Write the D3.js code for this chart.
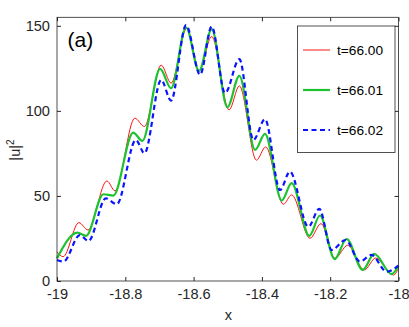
<!DOCTYPE html>
<html>
<head>
<meta charset="utf-8">
<script src="https://cdn.jsdelivr.net/npm/d3@7"></script>
<style>
  body { margin: 0; background: #fff; }
  svg { display: block; font-family: "Liberation Sans", Arial, sans-serif; }
</style>
</head>
<body>
<div id="container"></div>
<script>
// DATA (local peaks and troughs of each curve)
const redX   = [-19, -18.982, -18.936, -18.909, -18.854, -18.830, -18.772, -18.744, -18.695, -18.666, -18.620, -18.584, -18.547, -18.496, -18.466, -18.416, -18.389, -18.337, -18.313, -18.259, -18.227, -18.186, -18.149, -18.100, -18.067, -18.015, -18];
const redY   = [17.2, 14.3, 34.3, 30, 58.8, 53, 95.7, 90.8, 126.9, 116.3, 148.6, 123.5, 143.7, 100.6, 114.7, 71, 78.8, 45.1, 50.6, 25.1, 33.7, 13.3, 21, 6.5, 13.5, 3.5, 7.5];
const greenX = [-19, -18.940, -18.915, -18.864, -18.835, -18.777, -18.750, -18.698, -18.666, -18.622, -18.584, -18.547, -18.501, -18.466, -18.420, -18.391, -18.342, -18.313, -18.261, -18.230, -18.187, -18.152, -18.105, -18.071, -18.020, -18];
const greenY = [13.3, 28.4, 26.5, 51, 50.2, 87.2, 82.4, 124.7, 113.3, 149, 123.5, 148, 102.2, 120.6, 77.1, 86.5, 47.3, 57.5, 26.5, 38.5, 12.9, 24.7, 6.5, 15.9, 4.1, 8.8];
const blueX  = [-19, -18.981, -18.933, -18.908, -18.857, -18.825, -18.769, -18.744, -18.695, -18.666, -18.622, -18.581, -18.547, -18.508, -18.466, -18.425, -18.391, -18.347, -18.318, -18.264, -18.232, -18.196, -18.155, -18.113, -18.079, -18.035, -18];
const blueY  = [12.4, 11.4, 27, 23.5, 48.6, 45.1, 82.9, 75.1, 118.2, 106, 150.4, 121.2, 149.6, 110.4, 130.4, 82.9, 95.1, 53.5, 64.3, 31.9, 42.4, 18.2, 24.1, 11.4, 15.3, 5.5, 9];

const seriesNames = ["t=66.00", "t=66.01", "t=66.02"];
const xTicks = [-19, -18.8, -18.6, -18.4, -18.2, -18];
const yTicks = [0, 50, 100, 150];

//SVG
const width = 409;
const height = 327;
const plotLeft = 57, plotRight = 398.5, plotTop = 17.3, plotBottom = 281;

const svg = d3.select("div#container").append("svg")
    .attr("width", width)
    .attr("height", height);

//SCALES
const xScale = d3.scaleLinear().domain([-19, -18]).range([plotLeft, plotRight]);
const yScale = d3.scaleLinear().domain([0, 155]).range([plotBottom, plotTop]);

const axisColor = "#262626";

//LINES
const line = d3.line()
    .x(function(d) { return xScale(d[0]); })
    .y(function(d) { return yScale(d[1]); })
    .curve(d3.curveMonotoneX);

const series = [
  {x: redX, y: redY, color: "#ff1414", w: 1, dash: null},
  {x: greenX, y: greenY, color: "#1ec230", w: 2.2, dash: null},
  {x: blueX, y: blueY, color: "#0a14ff", w: 2.2, dash: "5,3.5"}
];

const plot = svg.append("g");
series.forEach(function(s) {
  plot.append("path")
    .datum(s.x.map(function(v, i) { return [v, s.y[i]]; }))
    .attr("fill", "none")
    .attr("stroke", s.color)
    .attr("stroke-width", s.w)
    .attr("stroke-dasharray", s.dash)
    .attr("d", line);
});

//AXES (MATLAB style, ticks inward on all four sides)
function styleAxis(g) {
  g.select(".domain").remove();
  g.selectAll(".tick line").attr("stroke", axisColor);
  g.selectAll(".tick text").attr("fill", axisColor).attr("font-size", 14.6)
    .attr("font-family", "Liberation Sans, Arial, sans-serif");
}

svg.append("g")
    .attr("transform", "translate(0," + plotBottom + ")")
    .call(d3.axisBottom(xScale).tickValues(xTicks).tickSize(-4).tickPadding(8)
      .tickFormat(function(d) { return String(+d.toFixed(1)); }))
    .call(styleAxis);
svg.append("g")
    .attr("transform", "translate(0," + plotTop + ")")
    .call(d3.axisTop(xScale).tickValues(xTicks).tickSize(-4).tickFormat(""))
    .call(styleAxis);
svg.append("g")
    .attr("transform", "translate(" + plotLeft + ",0)")
    .call(d3.axisLeft(yScale).tickValues(yTicks).tickSize(-4).tickPadding(7))
    .call(styleAxis);
svg.append("g")
    .attr("transform", "translate(" + plotRight + ",0)")
    .call(d3.axisRight(yScale).tickValues(yTicks).tickSize(-4).tickFormat(""))
    .call(styleAxis);

svg.append("rect")
    .attr("x", plotLeft).attr("y", plotTop)
    .attr("width", plotRight - plotLeft).attr("height", plotBottom - plotTop)
    .attr("fill", "none").attr("stroke", axisColor).attr("stroke-width", 0.8);

//LABELS
svg.append("text")
    .attr("x", 228.5).attr("y", 320)
    .attr("text-anchor", "middle").attr("font-size", 14.6).attr("fill", axisColor)
    .text("x");

const yl = svg.append("text")
    .attr("transform", "translate(20,150) rotate(-90)")
    .attr("text-anchor", "middle").attr("font-size", 14.6).attr("fill", axisColor);
yl.append("tspan").text("|u|");
yl.append("tspan").attr("dy", -6).attr("font-size", 10).text("2");

svg.append("text")
    .attr("x", 67.5).attr("y", 46.5)
    .attr("font-size", 21).attr("fill", "#000")
    .text("(a)");

//LEGEND
const legend = svg.append("g");
legend.append("rect")
    .attr("x", 297.5).attr("y", 26).attr("width", 97.5).attr("height", 126.5)
    .attr("fill", "#fff").attr("stroke", axisColor).attr("stroke-width", 0.8);

const legendY = d3.scalePoint().domain(seriesNames).range([50, 130]);
series.forEach(function(s, i) {
  const y = legendY(seriesNames[i]);
  legend.append("line")
    .attr("x1", 303).attr("x2", 330).attr("y1", y).attr("y2", y)
    .attr("stroke", s.color).attr("stroke-width", s.w)
    .attr("stroke-dasharray", s.dash);
  legend.append("text")
    .attr("x", 337).attr("y", y + 5)
    .attr("font-size", 13.7).attr("fill", "#000")
    .text(seriesNames[i]);
});
</script>
</body>
</html>
